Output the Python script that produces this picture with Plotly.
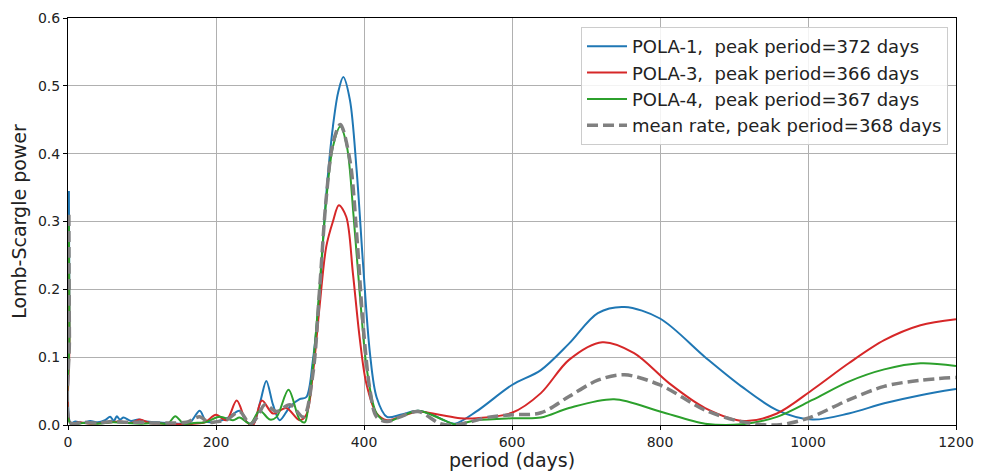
import plotly.graph_objects as go

# POLA-1
period_b = [1.2, 1.9, 3.5, 10, 20, 30, 40, 50, 57, 62, 66, 70, 75, 85, 95, 106, 120, 135, 150, 165, 178, 187, 201, 215, 232, 241, 250, 260, 268, 277, 286, 300, 313, 322, 331, 340, 349, 358, 365, 372, 381, 390, 399, 408, 417, 431, 449, 473, 493, 510, 523, 552, 600, 639, 677, 716, 752, 800, 861, 910, 958, 1006, 1055, 1103, 1152, 1200]
power_b = [0.345, 0.15, 0.003, 0.005, 0.003, 0.006, 0.004, 0.007, 0.012, 0.006, 0.013, 0.008, 0.011, 0.006, 0.008, 0.005, 0.004, 0.003, 0.002, 0.004, 0.021, 0.005, 0.005, 0.01, 0.021, 0.005, 0.001, 0.035, 0.065, 0.03, 0.007, 0.027, 0.038, 0.041, 0.096, 0.195, 0.34, 0.44, 0.49, 0.513, 0.479, 0.376, 0.233, 0.106, 0.041, 0.012, 0.015, 0.021, 0.015, 0.006, 0.002, 0.02, 0.059, 0.081, 0.12, 0.165, 0.174, 0.157, 0.10, 0.057, 0.022, 0.008, 0.017, 0.032, 0.044, 0.053]

# POLA-3
period_r = [1.2, 1.9, 3.5, 15, 30, 50, 70, 85, 97, 110, 130, 150, 170, 185, 200, 214, 228, 241, 250, 262, 277, 295, 313, 322, 331, 340, 349, 358, 366, 376, 385, 394, 403, 417, 431, 449, 473, 502, 530, 552, 600, 639, 677, 722, 765, 813, 861, 914, 958, 1006, 1055, 1103, 1152, 1200]
power_r = [0.27, 0.12, 0.002, 0.004, 0.002, 0.003, 0.005, 0.003, 0.008, 0.003, 0.002, 0.001, 0.002, 0.004, 0.015, 0.007, 0.036, 0.005, 0.0, 0.036, 0.017, 0.025, 0.007, 0.015, 0.076, 0.175, 0.263, 0.30, 0.324, 0.307, 0.224, 0.13, 0.062, 0.017, 0.007, 0.012, 0.02, 0.015, 0.01, 0.01, 0.018, 0.047, 0.096, 0.122, 0.106, 0.061, 0.025, 0.006, 0.017, 0.052, 0.091, 0.125, 0.147, 0.156]

# POLA-4
period_g = [1.2, 1.9, 3.5, 20, 40, 60, 80, 100, 120, 135, 145, 156, 170, 185, 205, 223, 232, 246, 259, 273, 282, 298, 313, 320, 325, 331, 340, 349, 358, 368, 377, 386, 395, 404, 417, 431, 449, 473, 502, 523, 552, 600, 639, 677, 738, 800, 861, 910, 958, 1006, 1055, 1103, 1152, 1200]
power_g = [0.30, 0.13, 0.002, 0.003, 0.002, 0.004, 0.003, 0.002, 0.003, 0.002, 0.013, 0.002, 0.003, 0.004, 0.012, 0.007, 0.011, 0.002, 0.021, 0.008, 0.012, 0.052, 0.008, 0.004, 0.03, 0.086, 0.204, 0.332, 0.41, 0.44, 0.41, 0.307, 0.184, 0.081, 0.017, 0.005, 0.012, 0.021, 0.01, 0.001, 0.007, 0.01, 0.011, 0.025, 0.038, 0.02, 0.002, 0.001, 0.012, 0.037, 0.064, 0.082, 0.091, 0.087]

# mean rate
period_m = [1.2, 1.9, 3.5, 20, 40, 60, 80, 100, 120, 140, 160, 178, 190, 201, 215, 232, 246, 256, 266, 282, 300, 318, 331, 340, 349, 358, 368, 381, 390, 399, 408, 417, 431, 449, 473, 503, 523, 571, 600, 639, 677, 716, 752, 800, 861, 910, 958, 1000, 1055, 1103, 1152, 1200]
power_m = [0.31, 0.13, 0.003, 0.004, 0.003, 0.005, 0.004, 0.004, 0.003, 0.003, 0.004, 0.012, 0.004, 0.005, 0.008, 0.02, 0.001, 0.012, 0.03, 0.02, 0.03, 0.012, 0.076, 0.2, 0.335, 0.415, 0.443, 0.39, 0.283, 0.145, 0.052, 0.012, 0.005, 0.012, 0.02, 0.002, 0.0, 0.012, 0.015, 0.018, 0.042, 0.066, 0.074, 0.059, 0.022, 0.005, 0.0, 0.01, 0.037, 0.057, 0.066, 0.070]

names = ["POLA-1,\u00a0 peak period=372 days",
         "POLA-3,\u00a0 peak period=366 days",
         "POLA-4,\u00a0 peak period=367 days",
         "mean rate, peak period=368 days"]
x_ticks = [0, 200, 400, 600, 800, 1000, 1200]
y_ticks = [0.0, 0.1, 0.2, 0.3, 0.4, 0.5, 0.6]

fig = go.Figure()
series = [(period_b, power_b, "#1f77b4", 2, "solid"),
          (period_r, power_r, "#d62728", 2, "solid"),
          (period_g, power_g, "#2ca02c", 2, "solid"),
          (period_m, power_m, "#808080", 3.5, "11px,5px")]
for (px, py, c, w, d), n in zip(series, names):
    fig.add_trace(go.Scatter(x=px, y=py, mode="lines", name=n,
                             line=dict(color=c, width=w, dash=d, shape="spline", smoothing=0.9)))

axis_common = dict(showline=True, linecolor="black", linewidth=1, mirror=True,
                   ticks="outside", ticklen=4, tickcolor="black", automargin=False,
                   showgrid=True, gridcolor="#b0b0b0", gridwidth=1, zeroline=False,
                   tickfont=dict(size=14, color="#222"))
fig.update_xaxes(range=[0, 1200], tickvals=x_ticks, ticktext=[str(v) for v in x_ticks],
                 title=dict(text="period (days)", font=dict(size=19, color="#222"), standoff=2),
                 **axis_common)
fig.update_yaxes(range=[0, 0.6], tickvals=y_ticks, ticktext=[f"{v:.1f}" for v in y_ticks],
                 title=dict(text="Lomb-Scargle power", font=dict(size=19, color="#222"), standoff=6),
                 **axis_common)
fig.update_layout(
    width=988, height=471,
    margin=dict(l=68, r=32, t=18, b=46),
    paper_bgcolor="white", plot_bgcolor="white",
    font=dict(family="DejaVu Sans", color="#222"),
    legend=dict(x=0.991, y=0.978, xanchor="right", yanchor="top",
                bgcolor="rgba(255,255,255,0.85)", bordercolor="#cccccc", borderwidth=1,
                font=dict(size=18, color="#222"), itemwidth=40, tracegroupgap=0),
    showlegend=True,
)
fig.write_html("out.html")
